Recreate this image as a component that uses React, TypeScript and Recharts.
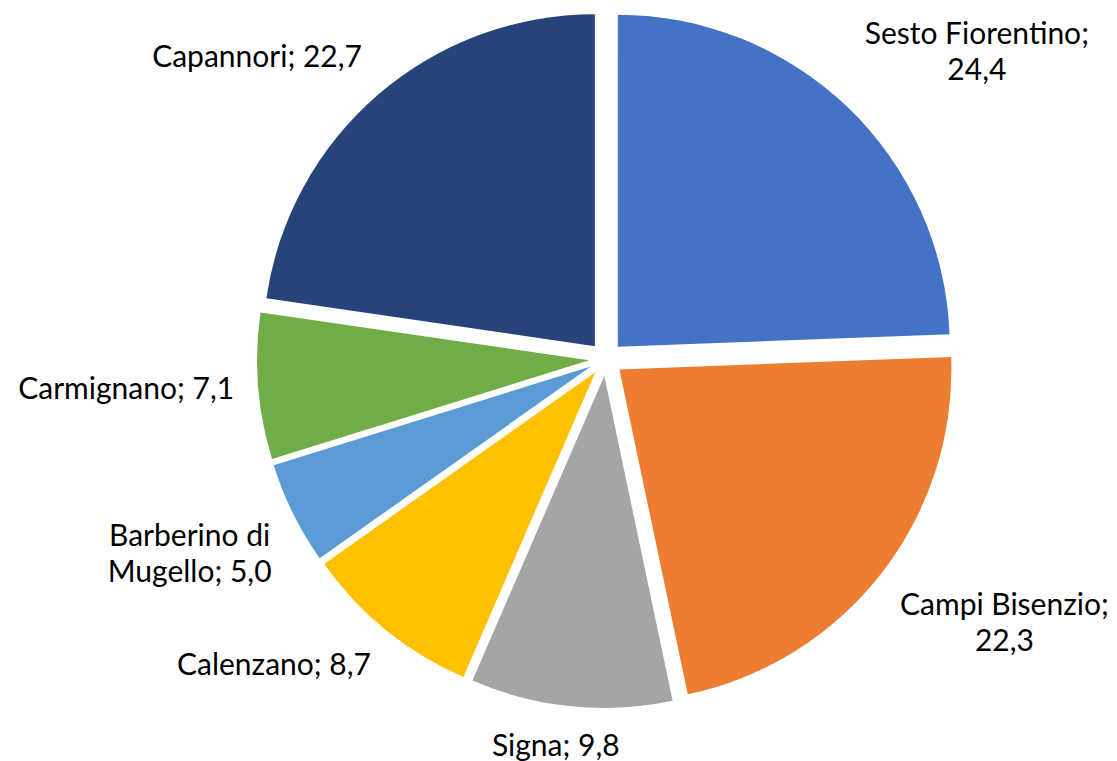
import { PieChart, Pie, Cell, Sector } from 'recharts';

const comuni = [
  'Sesto Fiorentino',
  'Campi Bisenzio',
  'Signa',
  'Calenzano',
  'Barberino di Mugello',
  'Carmignano',
  'Capannori',
];
const quote = [24.4, 22.3, 9.8, 8.7, 5.0, 7.1, 22.7];
const colori = ['#4472C4', '#ED7D31', '#A5A5A5', '#FFC000', '#5B9BD5', '#70AD47', '#264478'];

const data = comuni.map((name, i) => ({ name, value: quote[i] }));

const FONT = 'Lato, "Open Sans", sans-serif';
const FONT_SIZE = 30;
const LINE_H = 36;
const EXPLODE = 17; // slice explosion, px
const LABEL_GAP = 24;
const RAD = Math.PI / 180;

// canvas for text widths, so labels can sit just outside the slice
const ctx = typeof document !== 'undefined' ? document.createElement('canvas').getContext('2d') : null;
const measure = (s: string) => {
  if (!ctx) return s.length * FONT_SIZE * 0.5;
  ctx.font = `${FONT_SIZE}px Lato`;
  return ctx.measureText(s).width;
};

// Excel-like word wrap
const wrap = (s: string, max = 17) => {
  const out: string[] = [];
  let cur = '';
  s.split(' ').forEach((w) => {
    const next = cur ? `${cur} ${w}` : w;
    if (next.length > max && cur) {
      out.push(cur);
      cur = w;
    } else cur = next;
  });
  if (cur) out.push(cur);
  return out;
};

const fmt = (v: number) => v.toFixed(1).replace('.', ',');

const renderSlice = (props: any) => {
  const { cx, cy, midAngle, outerRadius, startAngle, endAngle, index, name, value } = props;
  const ux = Math.cos(-midAngle * RAD);
  const uy = Math.sin(-midAngle * RAD);
  const sx = cx + EXPLODE * ux;
  const sy = cy + EXPLODE * uy;

  const lr = outerRadius + EXPLODE + LABEL_GAP;
  const px = cx + lr * ux;
  const py = cy + lr * uy;
  const lines = wrap(`${name}; ${fmt(value)}`);
  const w = Math.max(...lines.map(measure));
  const h = lines.length * LINE_H;
  const c = (v: number) => Math.max(-1, Math.min(1, v * 2));
  const tx = px + (c(ux) * w) / 2;
  const ty = py + (c(uy) * h) / 2;
  const top = ty - h / 2 + LINE_H / 2 - 4;

  return (
    <g key={`slice-${index}`}>
      <Sector
        cx={sx}
        cy={sy}
        innerRadius={0}
        outerRadius={outerRadius}
        startAngle={startAngle}
        endAngle={endAngle}
        fill={colori[index]}
        stroke="none"
      />
      <text
        x={tx}
        y={top}
        textAnchor="middle"
        dominantBaseline="central"
        fill="#000"
        fontFamily={FONT}
        fontSize={FONT_SIZE}
      >
        {lines.map((l, i) => (
          <tspan key={i} x={tx} dy={i === 0 ? 0 : LINE_H}>
            {l}
          </tspan>
        ))}
      </text>
    </g>
  );
};

export default function App() {
  return (
    <div style={{ position: 'absolute', left: 0, top: 0, width: 1117, height: 761, background: '#fff' }}>
      <PieChart width={1117} height={761} margin={{ top: 0, right: 0, bottom: 0, left: 0 }}>
        <Pie
          data={data}
          dataKey="value"
          nameKey="name"
          cx={606}
          cy={359}
          innerRadius={0}
          outerRadius={332}
          startAngle={90}
          endAngle={-270}
          stroke="none"
          label={renderSlice}
          labelLine={false}
          isAnimationActive={false}
        >
          {data.map((d) => (
            <Cell key={d.name} fill="transparent" stroke="none" />
          ))}
        </Pie>
      </PieChart>
    </div>
  );
}
